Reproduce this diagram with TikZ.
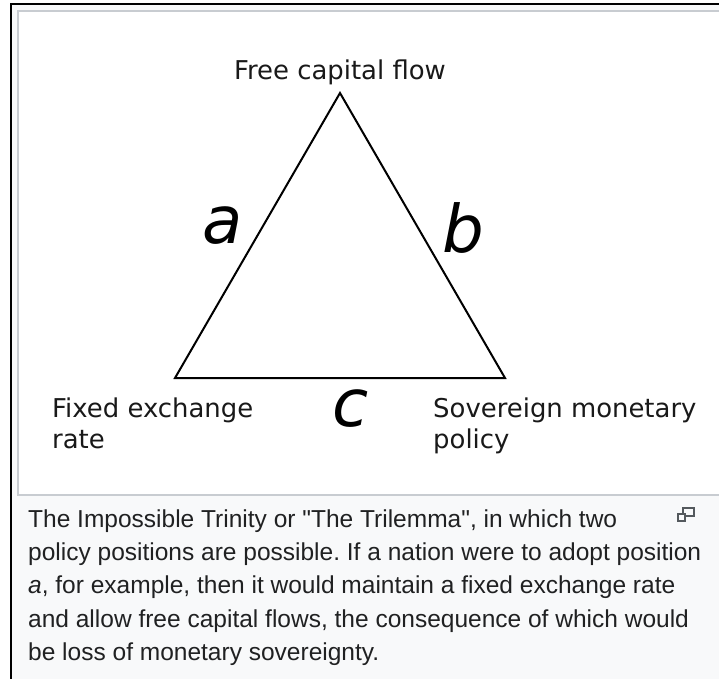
\documentclass[tikz,border=0pt]{standalone}
\usepackage{fontspec}
\newfontfamily\capfont{Liberation Sans}
\newfontfamily\dejavu{DejaVu Sans}
\definecolor{pagebg}{HTML}{F8F9FA}
\definecolor{boxline}{HTML}{C8CCD1}
\definecolor{captxt}{HTML}{202122}
\definecolor{iconcol}{HTML}{54595D}
\frenchspacing
\tikzset{
  lab/.style={inner sep=0pt, font=\dejavu\fontsize{26}{30}\selectfont, text=black!90},
  bigletter/.style={inner sep=0pt, font=\dejavu\itshape\fontsize{66}{70}\selectfont, text=black},
  captext/.style={inner sep=0pt, anchor=base west, font=\capfont\fontsize{24.6}{33}\selectfont, text=captxt},
  triedge/.style={draw=black, line width=2bp, line join=miter},
}
\begin{document}
\begin{tikzpicture}[x=1bp,y=-1bp]
\useasboundingbox (0,0) rectangle (719,679);
\clip (0,0) rectangle (719,679);
% page
\fill[pagebg] (11,4) rectangle (730,690);
\draw[black, line width=2bp] (11,690) -- (11,4) -- (730,4);
% image box
\draw[boxline, fill=white, line width=2bp] (18,11) rectangle (740,495);
% triangle
\coordinate (A) at (340,93);
\coordinate (B) at (175,378);
\coordinate (C) at (505,378);
\draw[triedge] (A) -- (B) -- (C) -- cycle;
% labels
\node[lab, anchor=base] (ltop) at (340,80) {Free capital flow};
\node[lab, anchor=base west] (lfix1) at (52,417) {Fixed exchange};
\node[lab, anchor=base west] (lfix2) at (52,448) {rate};
\node[lab, anchor=base west] (lsov1) at (433,417) {Sovereign monetary};
\node[lab, anchor=base west] (lsov2) at (433,448) {policy};
\node[bigletter] (la) at (223,226) {a};
\node[bigletter] (lb) at (463,228) {b};
\node[bigletter] (lc) at (351,409) {c};
% caption
\node[captext] (c1) at (28,527) {The Impossible Trinity or "The Trilemma", in which two};
\node[captext] (c2) at (28,560) {policy positions are possible. If a nation were to adopt position};
\node[captext] (c3) at (28,593) {\textit{a}, for example, then it would maintain a fixed exchange rate};
\node[captext] (c4) at (28,627) {and allow free capital flows, the consequence of which would};
\node[captext] (c5) at (28,660) {be loss of monetary sovereignty.};
% enlarge icon
\draw[iconcol, line width=1.6bp] (683,508) rectangle (694,516);
\draw[iconcol, line width=1.6bp, fill=pagebg] (678,514) rectangle (685,521);
\end{tikzpicture}
\end{document}
